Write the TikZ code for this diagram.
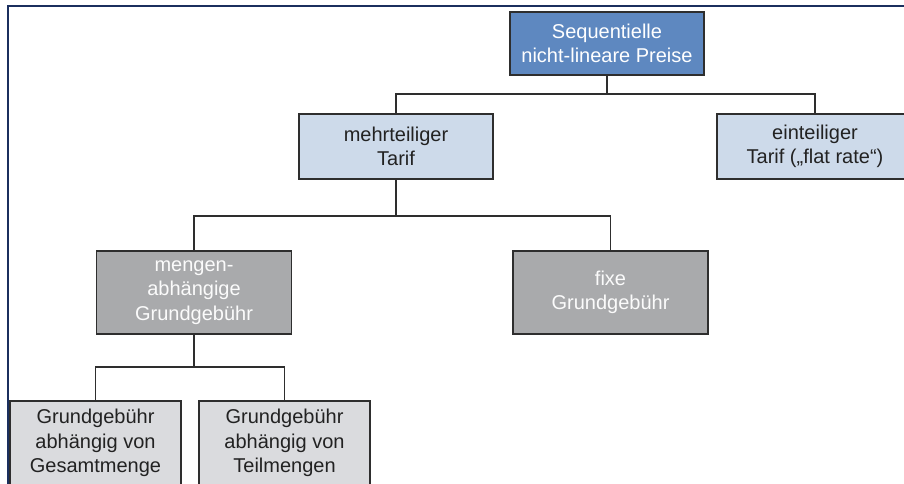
\documentclass[tikz,border=0pt]{standalone}
\usepackage{fontspec}
\setmainfont{Liberation Sans}
\usepackage{xcolor}
\usepackage{tikz}
\usetikzlibrary{calc}
\definecolor{ink}{HTML}{222222}
\definecolor{rim}{HTML}{2E2E2E}
\definecolor{steel}{HTML}{5E88C0}
\definecolor{pale}{HTML}{CDDAEA}
\definecolor{slate}{HTML}{A9AAAC}
\definecolor{mist}{HTML}{DADBDE}
\definecolor{navy}{HTML}{1B2F5E}
\tikzset{
  x=1pt,y=-1pt,
  box/.style={draw=rim,line width=1.5pt,align=center,inner sep=2pt,text=ink,
    font=\fontsize{20}{24.5}\selectfont},
  top/.style={box,fill=steel,text=white,minimum width=194,minimum height=63},
  tarif/.style={box,fill=pale,minimum width=194,minimum height=65},
  fee/.style={box,fill=slate,text=white!95!slate,minimum width=195,minimum height=83},
  part/.style={box,fill=mist,minimum width=171,minimum height=84},
  link/.style={draw=rim,line width=1.5pt},
  frame/.style={draw=navy,line width=2.5pt}
}
\begin{document}
\begin{tikzpicture}
\clip (0,0) rectangle (904,483);
\draw[frame] (8,490) -- (8,6) -- (910,6);

\node[top] (root) at (607,43.5) {Sequentielle\\nicht-lineare Preise};
\node[tarif] (mehr) at (396,146.5) {mehrteiliger\\Tarif};
\node[tarif,minimum width=196] (ein) at (815,146.5) {einteiliger\\Tarif („flat rate“)};
\node[fee] (mengen) at (194,292.5) {mengen-\\abhängige\\Grundgebühr};
\node[fee] (fixe) at (610.5,292.5) {fixe\\Grundgebühr};
\node[part] (gesamt) at (95.5,443) {Grundgebühr\\abhängig von\\Gesamtmenge};
\node[part] (teil) at (284.5,443) {Grundgebühr\\abhängig von\\Teilmengen};

\draw[link] (root.south) -- (root.south |- 0,94) coordinate (r1);
\draw[link] (mehr.north) |- (r1) -| (ein.north);
\draw[link] (mehr.south) -- (mehr.south |- 0,216) coordinate (m1);
\draw[link] (mengen.north) |- (m1) -| (fixe.north);
\draw[link] (mengen.south) -- (mengen.south |- 0,367) coordinate (g1);
\draw[link] (gesamt.north) |- (g1) -| (teil.north);
\end{tikzpicture}
\end{document}
